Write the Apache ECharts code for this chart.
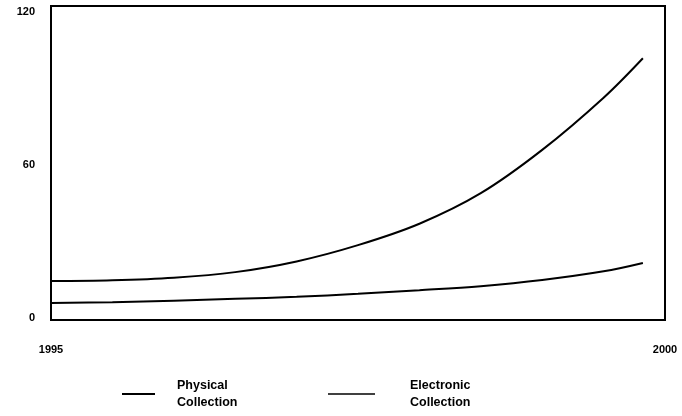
<!DOCTYPE html>
<html>
<head>
<meta charset="utf-8">
<script src="https://cdn.jsdelivr.net/npm/echarts@6/dist/echarts.min.js"></script>
<style>
html,body{margin:0;padding:0;background:#fff;}
#chart{width:682px;height:416px;}
</style>
</head>
<body>
<div id="chart"></div>
<script>
var years = [1995, 1995.5, 1996, 1996.5, 1997, 1997.5, 1998, 1998.5, 1999, 1999.5, 1999.82];
var physical = [14.5, 14.8, 15.8, 18.0, 22.2, 28.6, 37.0, 49.0, 66.0, 86.5, 102];
var electronic = [5.9, 6.2, 6.8, 7.5, 8.3, 9.5, 10.9, 12.5, 14.9, 18.3, 21.6];
var yTicks = [0, 60, 120];
var xTicks = [1995, 2000];
var seriesNames = ['Physical\nCollection', 'Electronic\nCollection'];

function pairs(xs, ys) { return xs.map(function (x, i) { return [x, ys[i]]; }); }

var font = 'Liberation Sans';
var chart = echarts.init(document.getElementById('chart'));
chart.setOption({
  backgroundColor: '#fff',
  animation: false,
  grid: { left: 51, right: 17, top: 6, bottom: 96, show: true, borderColor: '#000', borderWidth: 2, backgroundColor: 'transparent' },
  xAxis: {
    type: 'value', min: 1995, max: 2000,
    axisLine: { show: false }, axisTick: { show: false }, splitLine: { show: false },
    axisLabel: { customValues: xTicks, margin: 24, color: '#000', fontFamily: font, fontWeight: 'bold', fontSize: 11,
      formatter: function (v) { return String(v); } }
  },
  yAxis: {
    type: 'value', min: -0.8, max: 122.5,
    axisLine: { show: false }, axisTick: { show: false }, splitLine: { show: false },
    axisLabel: { customValues: yTicks, margin: 16, color: '#000', fontFamily: font, fontWeight: 'bold', fontSize: 11 }
  },
  legend: [
    { left: 117, top: 372, itemWidth: 33, itemHeight: 2, icon: 'rect', data: [seriesNames[0]],
      textStyle: { color: '#000', fontFamily: font, fontWeight: 'bold', fontSize: 12.5, lineHeight: 17, padding: [0, 0, 0, 17] } },
    { left: 323, top: 372, itemWidth: 47, itemHeight: 1.5, icon: 'rect', data: [seriesNames[1]],
      textStyle: { color: '#000', fontFamily: font, fontWeight: 'bold', fontSize: 12.5, lineHeight: 17, padding: [0, 0, 0, 30] } }
  ],
  series: [
    { name: seriesNames[0], type: 'line', smooth: 0.35, showSymbol: false, data: pairs(years, physical),
      lineStyle: { color: '#000', width: 2 }, itemStyle: { color: '#000' } },
    { name: seriesNames[1], type: 'line', smooth: 0.35, showSymbol: false, data: pairs(years, electronic),
      lineStyle: { color: '#000', width: 2 }, itemStyle: { color: '#000' } }
  ]
});
</script>
</body>
</html>
